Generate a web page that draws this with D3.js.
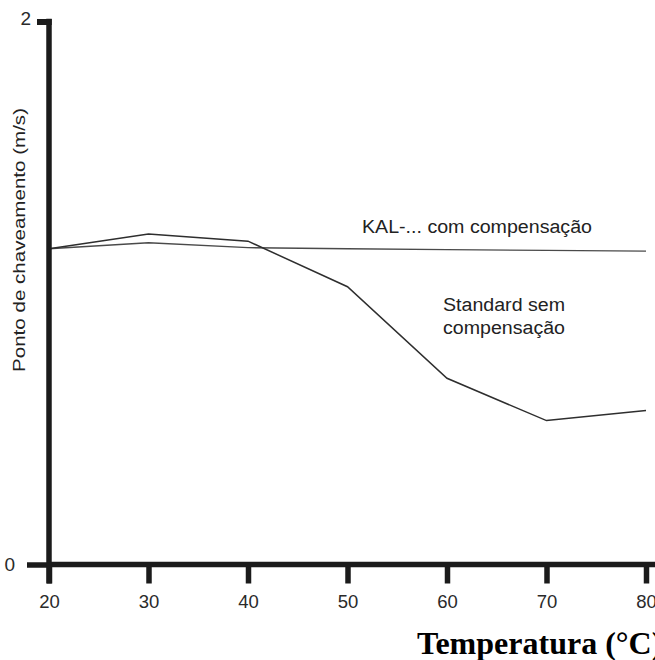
<!DOCTYPE html>
<html>
<head>
<meta charset="utf-8">
<script src="https://cdn.jsdelivr.net/npm/d3@7"></script>
<style>
  html, body { margin: 0; padding: 0; background: #fff; }
  svg { display: block; }
  text { font-family: "Liberation Sans", Arial, sans-serif; }
</style>
</head>
<body>
<svg id="chart" width="655" height="660"></svg>
<script>
// ---- data ----
const temperatures = [20, 30, 40, 50, 60, 70, 80];
const kalValues = [1.163, 1.185, 1.167, 1.163, 1.160, 1.157, 1.154];
const standardValues = [1.163, 1.217, 1.191, 1.023, 0.686, 0.530, 0.567];
const xTickValues = [20, 30, 40, 50, 60, 70, 80];
const yTickValues = [0, 2];
const yLabel = "Ponto de chaveamento (m/s)";
const xLabel = "Temperatura (°C)";
const kalLabel = "KAL-... com compensação";
const standardLabel = ["Standard sem", "compensação"];

// ---- layout ----
const W = 655, H = 660;
const svg = d3.select("#chart");
const x = d3.scaleLinear().domain([20, 80]).range([49, 646]);
const y = d3.scaleLinear().domain([0, 2]).range([564.5, 21.5]);
const axisColor = "#1b1b1b";
const axisWidth = 5.5;

// lines
const line = d3.line().x((d, i) => x(temperatures[i])).y(d => y(d));
svg.append("path").datum(kalValues)
  .attr("d", line).attr("fill", "none")
  .attr("stroke", "#4a4a4a").attr("stroke-width", 1.3);
svg.append("path").datum(standardValues)
  .attr("d", line).attr("fill", "none")
  .attr("stroke", "#2e2e2e").attr("stroke-width", 1.5);

// x axis
const xAxisG = svg.append("g").attr("transform", `translate(0,${y(0)})`)
  .call(d3.axisBottom(x).tickValues(xTickValues).tickFormat(d3.format("d")).tickSize(19).tickSizeOuter(0));
xAxisG.select(".domain").remove();
xAxisG.append("line")
  .attr("x1", x(20)).attr("x2", W + 5)
  .attr("stroke", axisColor).attr("stroke-width", axisWidth);
xAxisG.selectAll(".tick line").attr("stroke", axisColor).attr("stroke-width", axisWidth);
xAxisG.selectAll(".tick text")
  .attr("y", 30).attr("dy", "0.71em")
  .attr("fill", "#2a2a2a")
  .style("font-size", "18.5px")
  .style("font-family", "'Liberation Sans', Arial, sans-serif");

// y axis
const yAxisG = svg.append("g").attr("transform", `translate(${x(20)},0)`)
  .call(d3.axisLeft(y).tickValues(yTickValues).tickFormat(d3.format("d")).tickSizeOuter(0));
yAxisG.select(".domain").remove();
yAxisG.append("line")
  .attr("y1", y(2) - axisWidth / 2).attr("y2", y(0) + 19)
  .attr("stroke", axisColor).attr("stroke-width", axisWidth);
yAxisG.selectAll(".tick line")
  .attr("x1", axisWidth / 2)
  .attr("x2", d => d === 0 ? -22 : -12)
  .attr("stroke", axisColor).attr("stroke-width", d => d === 0 ? axisWidth : 6);
yAxisG.selectAll(".tick text")
  .attr("x", d => d === 0 ? -34 : -18)
  .attr("dy", d => d === 0 ? "0.32em" : "0.15em")
  .attr("fill", "#2a2a2a")
  .style("font-size", "19px")
  .style("font-family", "'Liberation Sans', Arial, sans-serif");

// y label
svg.append("text")
  .attr("transform", `translate(25,240) rotate(-90)`)
  .attr("text-anchor", "middle")
  .attr("fill", "#222")
  .style("font-size", "17px")
  .attr("textLength", 264).attr("lengthAdjust", "spacingAndGlyphs")
  .text(yLabel);

// x label
svg.append("text")
  .attr("x", 417).attr("y", 654)
  .attr("fill", "#000")
  .style("font-family", "'Liberation Serif', 'Times New Roman', serif")
  .style("font-weight", "bold")
  .style("font-size", "32px")
  .text(xLabel);

// annotations
svg.append("text")
  .attr("x", 362).attr("y", 233)
  .attr("fill", "#222")
  .style("font-size", "18px")
  .attr("textLength", 230).attr("lengthAdjust", "spacingAndGlyphs")
  .text(kalLabel);
standardLabel.forEach((t, i) => {
  svg.append("text")
    .attr("x", 443).attr("y", 311 + i * 23)
    .attr("fill", "#222")
    .style("font-size", "18px")
    .attr("textLength", 122).attr("lengthAdjust", "spacingAndGlyphs")
    .text(t);
});
</script>
</body>
</html>
